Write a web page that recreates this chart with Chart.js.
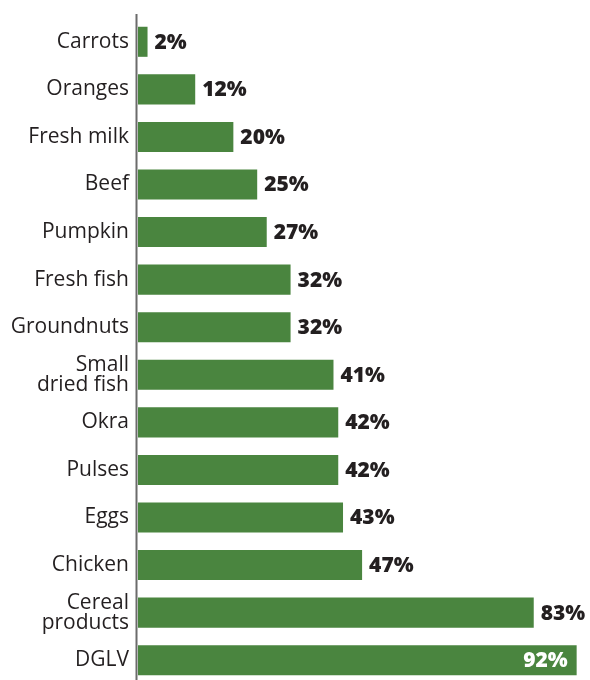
<!DOCTYPE html>
<html>
<head>
<meta charset="utf-8">
<script src="https://cdn.jsdelivr.net/npm/chart.js@4.4.1/dist/chart.umd.min.js"></script>
<style>
  html, body { margin: 0; padding: 0; background: #fff; overflow: hidden; }
  canvas { display: block; }
</style>
</head>
<body>
<canvas id="myChart" width="590" height="684"></canvas>
<script>
// data
var foods = ["Carrots", "Oranges", "Fresh milk", "Beef", "Pumpkin", "Fresh fish", "Groundnuts",
  ["Small", "dried fish"], "Okra", "Pulses", "Eggs", "Chicken", ["Cereal", "products"], "DGLV"];
var shares = [2, 12, 20, 25, 27, 32, 32, 41, 42, 42, 43, 47, 83, 92];
var insideLabels = [false, false, false, false, false, false, false, false, false, false, false, false, false, true];

var barGreen = '#4a853f';
var textDark = '#231f20';

// value labels next to (or inside) each bar
var valueLabels = {
  id: 'valueLabels',
  afterDatasetsDraw: function (chart) {
    var ctx = chart.ctx;
    var meta = chart.getDatasetMeta(0);
    ctx.save();
    ctx.font = '800 21px "Open Sans"';
    ctx.textBaseline = 'middle';
    meta.data.forEach(function (bar, i) {
      var txt = shares[i] + '%';
      if (insideLabels[i]) {
        ctx.fillStyle = '#fff';
        ctx.textAlign = 'right';
        ctx.fillText(txt, bar.x - 9, bar.y + 1);
      } else {
        ctx.fillStyle = textDark;
        ctx.textAlign = 'left';
        ctx.fillText(txt, bar.x + 7, bar.y + 1);
      }
    });
    ctx.restore();
  }
};

// vertical axis line, starts a bit above the first bar
var axisLine = {
  id: 'axisLine',
  afterDraw: function (chart) {
    var ctx = chart.ctx;
    var x = chart.chartArea.left - 1.5;
    ctx.save();
    ctx.strokeStyle = '#6b6b6b';
    ctx.lineWidth = 2;
    ctx.beginPath();
    ctx.moveTo(x, 14);
    ctx.lineTo(x, chart.height);
    ctx.stroke();
    ctx.restore();
  }
};

new Chart('myChart', {
  type: 'bar',
  data: {
    labels: foods,
    datasets: [{
      data: shares,
      backgroundColor: barGreen,
      barPercentage: 0.632,
      categoryPercentage: 1
    }]
  },
  options: {
    indexAxis: 'y',
    responsive: false,
    animation: false,
    layout: { padding: { top: 18, right: 0, bottom: 0, left: 0 } },
    plugins: {
      legend: { display: false },
      tooltip: { enabled: false }
    },
    scales: {
      x: {
        display: false,
        min: 0,
        max: 94.8
      },
      y: {
        afterFit: function (scale) {
          scale.width = 138;
          scale.paddingTop = 0;
          scale.paddingBottom = 0;
        },
        grid: { display: false, drawTicks: false },
        border: { display: false },
        ticks: {
          color: textDark,
          padding: 9,
          font: { family: '"Open Sans"', size: 21, lineHeight: 0.95 }
        }
      }
    }
  },
  plugins: [valueLabels, axisLine]
});
</script>
</body>
</html>
